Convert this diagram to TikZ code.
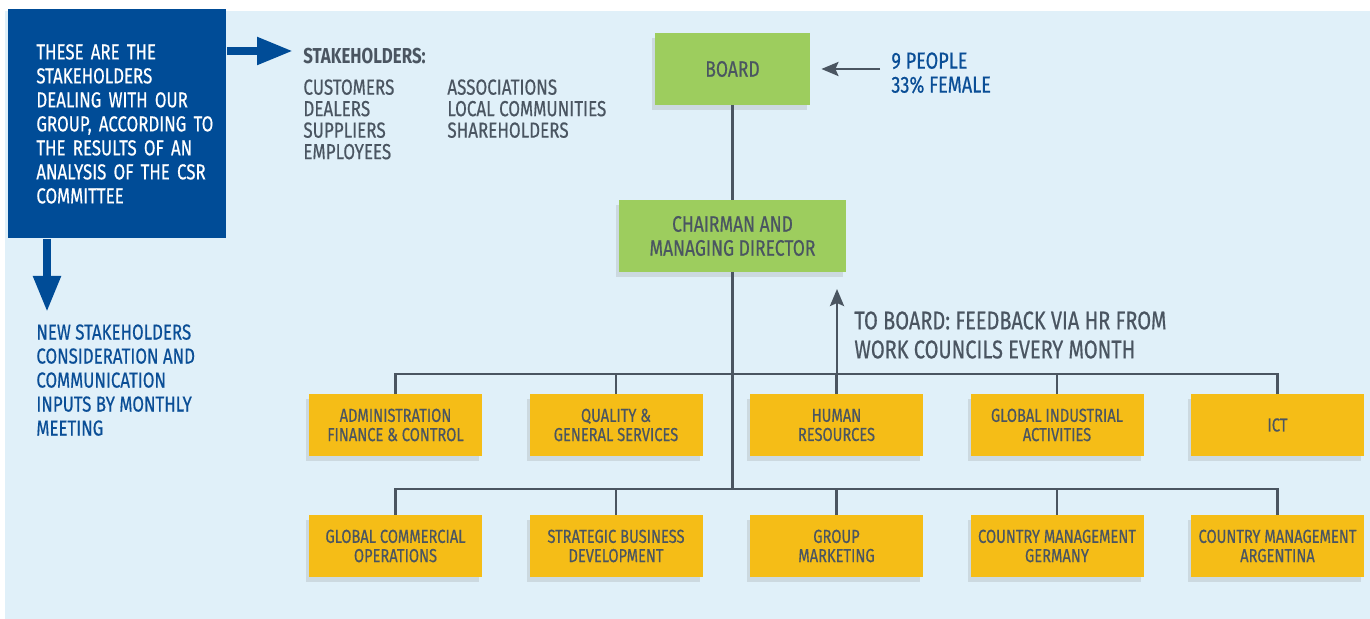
\documentclass[tikz,border=0pt]{standalone}
\usepackage{fontspec}
\setmainfont{Fira Sans}[FakeStretch = 0.78, UprightFeatures = {FakeBold = 0.5}]
\usepackage{tikz}
\usetikzlibrary{shapes.geometric, arrows, arrows.meta, shadows}
\definecolor{csrblue}{HTML}{004C97}
\definecolor{textblue}{HTML}{0A4E96}
\definecolor{bgblue}{HTML}{E0F0F9}
\definecolor{boardgreen}{HTML}{9DCD5E}
\definecolor{unityellow}{HTML}{F5BD17}
\definecolor{linegray}{HTML}{4A5561}
\tikzstyle{head} = [rectangle, inner sep = 0pt, minimum height = 36pt, align = center, fill = boardgreen, text = linegray, font = \fontsize{11.2}{12}\selectfont, drop shadow = {shadow xshift = -1.5pt, shadow yshift = -2.5pt, opacity = 0.2}]
\tikzstyle{unit} = [rectangle, inner sep = 0pt, minimum width = 86.5pt, minimum height = 31pt, align = center, fill = unityellow, text = linegray, font = \fontsize{9.4}{9.6}\selectfont, drop shadow = {shadow xshift = -1.5pt, shadow yshift = -2.5pt, opacity = 0.2}]
\tikzstyle{label} = [inner sep = 0pt, anchor = north west, align = left, text = linegray]
\tikzstyle{link} = [draw = linegray, line width = 1.3pt]
\tikzstyle{bigarrow} = [draw = csrblue, line width = 4pt, -{Triangle[length = 18pt, width = 13pt]}]
\tikzstyle{thinarrow} = [draw = linegray, line width = 1.4pt, -{Stealth[length = 8.5pt, width = 7pt, inset = 1.5pt]}]
\begin{document}
\begin{tikzpicture}[x = 0.5pt, y = -0.5pt, node distance = 110.25pt]
	\useasboundingbox (0,0) rectangle (1370,619);
	\fill [bgblue] (5,11) rectangle (1370,619);

	\node (intro)[rectangle, fill = csrblue, text = white, anchor = north west, minimum width = 109pt, minimum height = 114.5pt, inner xsep = 14pt, text width = 81pt, align = left, font = \fontsize{10.8}{12}\selectfont] at (8,9) {THESE ARE THE\\STAKEHOLDERS\\DEALING WITH OUR\\\mbox{GROUP, ACCORDING TO}\\THE RESULTS OF AN\\\mbox{ANALYSIS OF THE CSR}\\COMMITTEE};
	\node (stk)[label, font = \fontsize{10.8}{12}\selectfont\bfseries] at (303,48) {STAKEHOLDERS:};
	\node (stklist1)[label, font = \fontsize{10.9}{10.75}\selectfont] at (303,79) {CUSTOMERS\\DEALERS\\SUPPLIERS\\EMPLOYEES};
	\node (stklist2)[label, font = \fontsize{10.9}{10.75}\selectfont] at (447,79) {ASSOCIATIONS\\LOCAL COMMUNITIES\\SHAREHOLDERS};
	\node (newstk)[label, text = textblue, font = \fontsize{10.8}{12}\selectfont] at (36,324) {NEW STAKEHOLDERS\\CONSIDERATION AND\\COMMUNICATION\\INPUTS BY MONTHLY\\MEETING};

	\node (board)[head, minimum width = 77.5pt] at (732.5,69) {BOARD};
	\node (chair)[head, minimum width = 113.5pt, below of = board, yshift = 26.75pt] {CHAIRMAN AND\\MANAGING DIRECTOR};
	\node (boardinfo)[label, text = textblue, font = \fontsize{11.6}{12}\selectfont] at (891,52) {9 PEOPLE\\33\% FEMALE};
	\node (feedback)[label, font = \fontsize{12.8}{14.5}\selectfont] at (854,311) {TO BOARD: FEEDBACK VIA HR FROM\\WORK COUNCILS EVERY MONTH};

	\node (admin)[unit] at (395.5,425) {ADMINISTRATION\\FINANCE \& CONTROL};
	\node (quality)[unit, right of = admin] {QUALITY \&\\GENERAL SERVICES};
	\node (hr)[unit, right of = quality] {HUMAN\\RESOURCES};
	\node (gia)[unit, right of = hr] {GLOBAL INDUSTRIAL\\ACTIVITIES};
	\node (ict)[unit, right of = gia] {ICT};
	\node (gco)[unit, below of = admin, yshift = 49.75pt] {GLOBAL COMMERCIAL\\OPERATIONS};
	\node (sbd)[unit, right of = gco] {STRATEGIC BUSINESS\\DEVELOPMENT};
	\node (marketing)[unit, right of = sbd] {GROUP\\MARKETING};
	\node (germany)[unit, right of = marketing] {COUNTRY MANAGEMENT\\GERMANY};
	\node (argentina)[unit, right of = germany] {COUNTRY MANAGEMENT\\ARGENTINA};

	\coordinate (stkin) at (293,51);
	\coordinate (newin) at (47,312);
	\coordinate (topbus) at (731,374);
	\coordinate (botbus) at (731,489);
	\coordinate (fbtip) at (837,289);

	\draw [bigarrow] (intro.east |- stkin) -- (stkin);
	\draw [bigarrow] (intro.south -| newin) -- (newin);
	\draw [thinarrow] ([xshift = -5.5pt]boardinfo.west |- board) -- ([xshift = 5.5pt]board.east);

	\draw [link] (board) -- (chair);
	\draw [link] (chair.south) -- (chair.south |- botbus);
	\draw [link] (admin.north) |- (topbus) -| (ict.north);
	\draw [link] (quality.north) -- (quality.north |- topbus);
	\draw [link] (hr.north) -- (hr.north |- topbus);
	\draw [link] (gia.north) -- (gia.north |- topbus);
	\draw [link] (gco.north) |- (botbus) -| (argentina.north);
	\draw [link] (sbd.north) -- (sbd.north |- botbus);
	\draw [link] (marketing.north) -- (marketing.north |- botbus);
	\draw [link] (germany.north) -- (germany.north |- botbus);
	\draw [thinarrow] (fbtip |- topbus) -- (fbtip);
\end{tikzpicture}
\end{document}
